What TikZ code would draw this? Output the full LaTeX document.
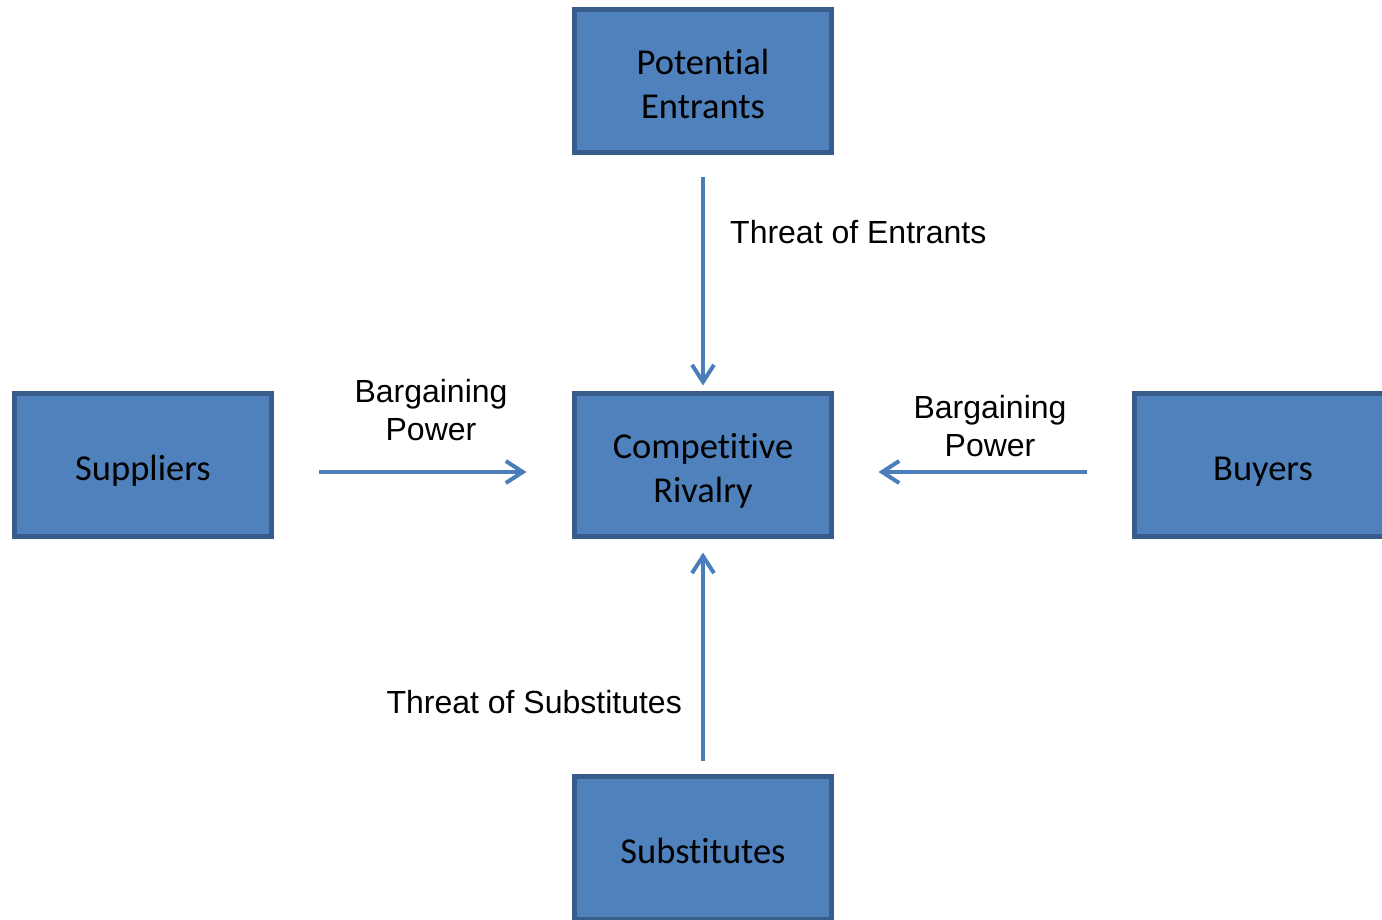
\documentclass[tikz,border=0pt]{standalone}
\usepackage{fontspec}
\setmainfont{Liberation Sans}
\newfontfamily\boxfont[Ligatures=NoCommon]{Carlito}
\usetikzlibrary{arrows.meta}
\definecolor{boxfill}{HTML}{4F81BD}
\definecolor{boxline}{HTML}{385D8A}
\definecolor{arrowblue}{HTML}{4A7EBB}
\newcommand\twolines[2]{\begin{tabular}{@{}c@{}}#1\\#2\end{tabular}}
\tikzset{
  force/.style={draw=boxline, fill=boxfill, line width=5pt, inner sep=0pt,
    minimum width=257pt, minimum height=143pt,
    font=\boxfont\fontsize{36.5pt}{44pt}\selectfont, text=black,
    % fixed strut so every box sets its text at the same height
    execute at begin node={\rule{0pt}{40pt}},
    execute at end node={\rule[-9pt]{0pt}{9pt}}},
  % taller strut for the two-line texts
  twoline/.style={execute at begin node={\rule{0pt}{63pt}}},
  pressure/.style={draw=arrowblue, line width=4pt,
    -{Straight Barb[length=17pt, width=22pt, line width=4pt]}},
  lbl/.style={inner sep=0pt, align=center, text=black,
    font=\fontsize{32pt}{38pt}\selectfont}
}
\begin{document}
\begin{tikzpicture}[x=1pt, y=-1pt]
  \useasboundingbox (0,0) rectangle (1382,920);
  % the five forces
  \node[force, twoline] (pe)  at (703,81)  {\twolines{Potential}{Entrants}};
  \node[force, twoline] (riv) at (703,465) {\twolines{Competitive}{Rivalry}};
  \node[force] (sup) at (143,465) {Suppliers};
  \node[force] (buy) at (1263,465) {Buyers};
  \node[force] (sub) at (703,848) {Substitutes};
  % pressures acting on the rivalry
  \draw[pressure, shorten <=22.5pt, shorten >=5.5pt] (pe.south) -- (riv.north);
  \draw[pressure, shorten <=44.5pt, shorten >=45.5pt]
    ([yshift=-7pt]sup.east) -- ([yshift=-7pt]riv.west);
  \draw[pressure, shorten <=45.5pt, shorten >=44.5pt]
    ([yshift=-7pt]buy.west) -- ([yshift=-7pt]riv.east);
  \draw[pressure, shorten <=13.5pt, shorten >=13.5pt] (sub.north) -- (riv.south);
  % labels
  \node[lbl, anchor=west] (lte) at (730,232) {Threat of Entrants};
  \node[lbl] (lbs) at (431,410) {Bargaining\\Power};
  \node[lbl] (lbb) at (990,426) {Bargaining\\Power};
  \node[lbl, anchor=east] (lts) at (682,702) {Threat of Substitutes};
\end{tikzpicture}
\end{document}
